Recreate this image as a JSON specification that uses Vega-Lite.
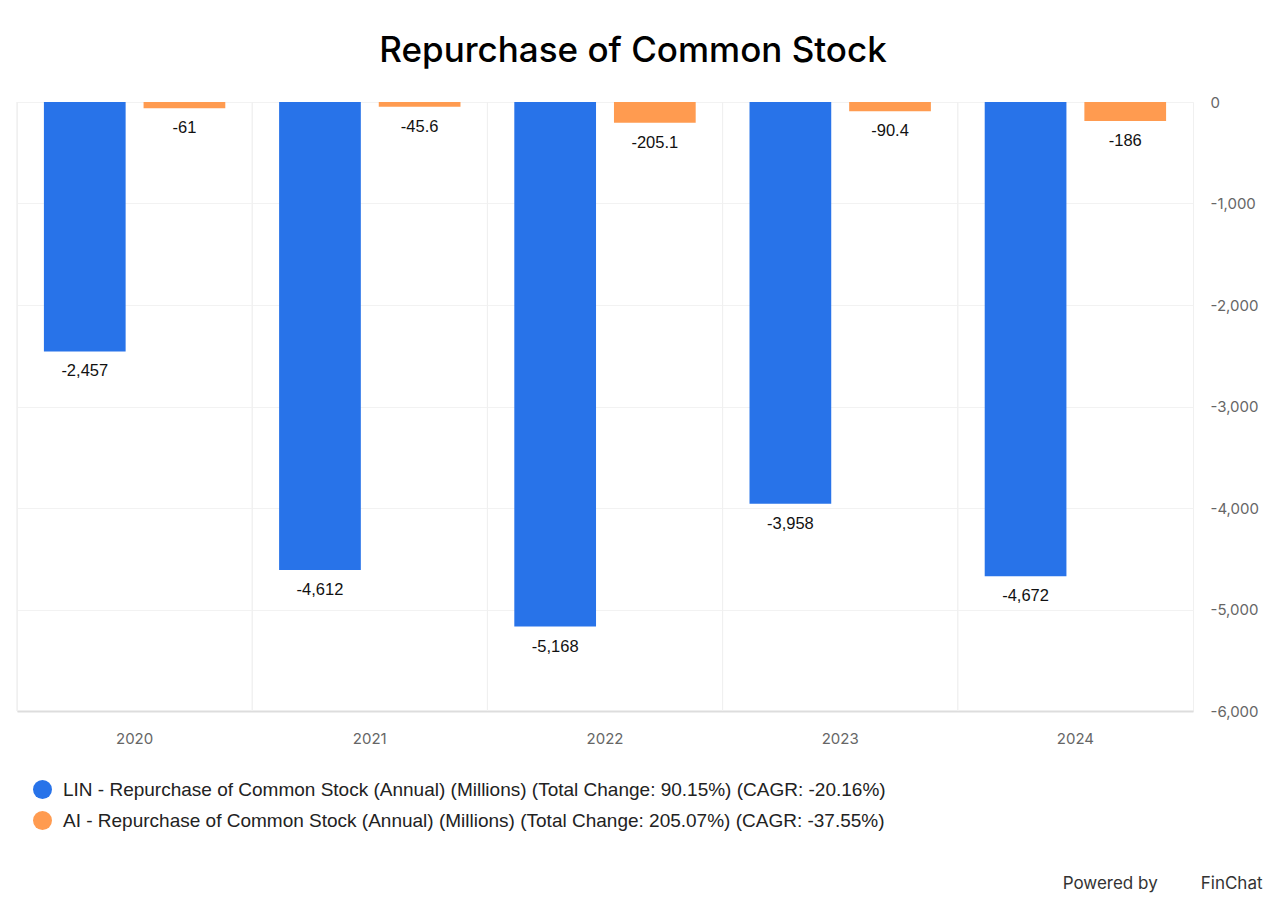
{
  "$schema": "https://vega.github.io/schema/vega-lite/v6.json",
  "autosize": "none",
  "width": 1176,
  "height": 609,
  "padding": {"left": 17, "top": 102, "right": 87, "bottom": 196},
  "background": "#ffffff",
  "title": {
    "text": "Repurchase of Common Stock",
    "font": "Inter",
    "fontSize": 35,
    "fontWeight": 500,
    "color": "#000000",
    "anchor": "middle",
    "frame": "group",
    "dx": 28,
    "baseline": "alphabetic",
    "offset": -2
  },
  "config": {
    "locale": {
      "number": {"decimal": ".", "thousands": ",", "grouping": [3], "currency": ["$", ""], "minus": "-"}
    },
    "view": {"stroke": "#f0f0f0"},
    "axis": {"labelFont": "Inter", "labelColor": "#666666", "labelFontSize": 15}
  },
  "data": {
    "values": [
      {"year": "2020", "series": "LIN - Repurchase of Common Stock (Annual) (Millions) (Total Change: 90.15%) (CAGR: -20.16%)", "value": -2457},
      {"year": "2021", "series": "LIN - Repurchase of Common Stock (Annual) (Millions) (Total Change: 90.15%) (CAGR: -20.16%)", "value": -4612},
      {"year": "2022", "series": "LIN - Repurchase of Common Stock (Annual) (Millions) (Total Change: 90.15%) (CAGR: -20.16%)", "value": -5168},
      {"year": "2023", "series": "LIN - Repurchase of Common Stock (Annual) (Millions) (Total Change: 90.15%) (CAGR: -20.16%)", "value": -3958},
      {"year": "2024", "series": "LIN - Repurchase of Common Stock (Annual) (Millions) (Total Change: 90.15%) (CAGR: -20.16%)", "value": -4672},
      {"year": "2020", "series": "AI - Repurchase of Common Stock (Annual) (Millions) (Total Change: 205.07%) (CAGR: -37.55%)", "value": -61},
      {"year": "2021", "series": "AI - Repurchase of Common Stock (Annual) (Millions) (Total Change: 205.07%) (CAGR: -37.55%)", "value": -45.6},
      {"year": "2022", "series": "AI - Repurchase of Common Stock (Annual) (Millions) (Total Change: 205.07%) (CAGR: -37.55%)", "value": -205.1},
      {"year": "2023", "series": "AI - Repurchase of Common Stock (Annual) (Millions) (Total Change: 205.07%) (CAGR: -37.55%)", "value": -90.4},
      {"year": "2024", "series": "AI - Repurchase of Common Stock (Annual) (Millions) (Total Change: 205.07%) (CAGR: -37.55%)", "value": -186}
    ]
  },
  "encoding": {
    "x": {
      "field": "year",
      "type": "ordinal",
      "scale": {"paddingInner": 0, "paddingOuter": 0},
      "axis": {
        "orient": "bottom",
        "labelAngle": 0,
        "ticks": false,
        "grid": false,
        "domainColor": "#dddddd",
        "domainWidth": 2,
        "labelPadding": 20,
        "title": "Powered by\u00a0\u00a0\u00a0\u00a0\u00a0\u00a0\u00a0\u00a0\u00a0FinChat",
        "titleFont": "Inter",
        "titleFontSize": 17,
        "titleFontWeight": "normal",
        "titleColor": "#333333",
        "titleAnchor": "end",
        "titleAlign": "right",
        "titleX": 1245,
        "titleY": 164
      }
    }
  },
  "layer": [
    {
      "mark": {"type": "rule", "color": "#f0f0f0", "strokeWidth": 1},
      "encoding": {
        "x": {"field": "year", "type": "ordinal", "bandPosition": 0}
      }
    },
    {
      "mark": {"type": "bar"},
      "encoding": {
        "xOffset": {
          "field": "series",
          "type": "nominal",
          "sort": null,
          "scale": {"paddingInner": 0.18, "paddingOuter": 0.27}
        },
        "y": {
          "field": "value",
          "type": "quantitative",
          "scale": {"domain": [-6000, 0], "nice": false},
          "axis": {
            "orient": "right",
            "title": null,
            "values": [0, -1000, -2000, -3000, -4000, -5000, -6000],
            "format": ",d",
            "domain": false,
            "ticks": false,
            "labelPadding": 17,
            "gridColor": "#f2f2f2",
            "gridWidth": 1
          }
        },
        "color": {
          "field": "series",
          "type": "nominal",
          "sort": null,
          "scale": {"range": ["#2873E9", "#FF9B50"]},
          "legend": {
            "orient": "none",
            "legendX": 16,
            "legendY": 678,
            "title": null,
            "symbolType": "circle",
            "symbolSize": 360,
            "symbolStrokeWidth": 0,
            "symbolOpacity": 1,
            "labelFont": "Liberation Sans",
            "labelFontSize": 19,
            "labelColor": "#222222",
            "labelLimit": 1000,
            "labelOffset": 11,
            "rowPadding": 11,
            "padding": 0
          }
        }
      }
    },
    {
      "mark": {"type": "text", "font": "Liberation Sans", "fontSize": 16.5, "color": "#111111", "baseline": "middle", "dy": 20},
      "encoding": {
        "xOffset": {"field": "series", "type": "nominal", "sort": null},
        "y": {"field": "value", "type": "quantitative"},
        "text": {"field": "value", "type": "quantitative", "format": ",.4~r"}
      }
    }
  ]
}
